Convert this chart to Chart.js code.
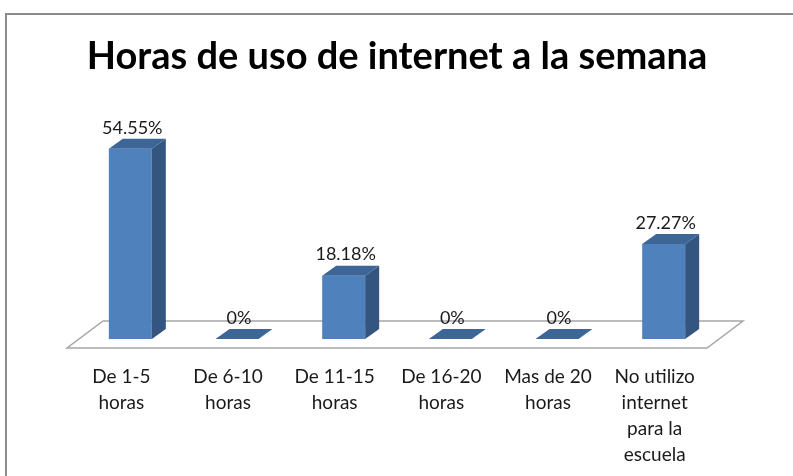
<!DOCTYPE html>
<html>
<head>
<meta charset="utf-8">
<script src="https://cdn.jsdelivr.net/npm/chart.js@4.4.1/dist/chart.umd.min.js"></script>
<style>
  html, body { margin: 0; padding: 0; background: #fff; overflow: hidden; }
  body { width: 793px; height: 476px; position: relative; }
  #frame { position: absolute; left: 5px; top: 13px; width: 820px; height: 500px;
           border: 2px solid #8c8c8c; box-sizing: border-box; }
  #wrap { position: absolute; left: 5px; top: 13px; width: 805px; height: 470px; }
</style>
</head>
<body>
<div id="frame"></div>
<div id="wrap"><canvas id="grafica"></canvas></div>
<script>
const categorias = [
  ['De 1-5', 'horas'],
  ['De 6-10', 'horas'],
  ['De 11-15', 'horas'],
  ['De 16-20', 'horas'],
  ['Mas de 20', 'horas'],
  ['No utilizo', 'internet', 'para la', 'escuela']
];
const porcentajes = [54.55, 0, 18.18, 0, 0, 27.27];
const etiquetas = ['54.55%', '0%', '18.18%', '0%', '0%', '27.27%'];

const DX = 14, DY = 10;

// piso gris en perspectiva
const piso = {
  id: 'piso',
  beforeDatasetsDraw(chart) {
    const ctx = chart.ctx;
    const a = chart.chartArea;
    const y0 = chart.scales.y.getPixelForValue(0);
    ctx.save();
    ctx.beginPath();
    ctx.moveTo(a.left - 10, y0 + 9);
    ctx.lineTo(a.right - 10, y0 + 9);
    ctx.lineTo(a.right + 26, y0 - 18);
    ctx.lineTo(a.left + 26, y0 - 18);
    ctx.closePath();
    ctx.fillStyle = '#ffffff';
    ctx.fill();
    ctx.strokeStyle = '#a6a6a6';
    ctx.lineWidth = 1.5;
    ctx.stroke();
    ctx.restore();
  }
};

// caras laterales y superiores de las barras + etiquetas
const barras3d = {
  id: 'barras3d',
  afterDatasetsDraw(chart) {
    const ctx = chart.ctx;
    const meta = chart.getDatasetMeta(0);
    ctx.save();
    meta.data.forEach((bar, i) => {
      const w = bar.width;
      const x0 = bar.x - w / 2, x1 = bar.x + w / 2;
      const top = bar.y, base = bar.base;
      // lado
      if (base - top > 0.5) {
        ctx.beginPath();
        ctx.moveTo(x1, top);
        ctx.lineTo(x1 + DX, top - DY);
        ctx.lineTo(x1 + DX, base - DY);
        ctx.lineTo(x1, base);
        ctx.closePath();
        ctx.fillStyle = '#34557f';
        ctx.fill();
      }
      // techo
      ctx.beginPath();
      ctx.moveTo(x0, top);
      ctx.lineTo(x1, top);
      ctx.lineTo(x1 + DX, top - DY);
      ctx.lineTo(x0 + DX, top - DY);
      ctx.closePath();
      ctx.fillStyle = '#3d6596';
      ctx.fill();
      // etiqueta
      ctx.fillStyle = '#1a1a1a';
      ctx.font = '18px Lato';
      ctx.textAlign = 'center';
      ctx.textBaseline = 'middle';
      ctx.fillText(etiquetas[i], bar.x + 2, top - 21);
    });
    ctx.restore();
  }
};

const ctx = document.getElementById('grafica');
new Chart(ctx, {
  type: 'bar',
  data: {
    labels: categorias,
    datasets: [{
      data: porcentajes,
      backgroundColor: '#4f81bd',
      borderWidth: 0,
      categoryPercentage: 1,
      barPercentage: 0.403
    }]
  },
  options: {
    responsive: true,
    maintainAspectRatio: false,
    animation: false,
    layout: { padding: { left: 72, right: 93, top: 0, bottom: 0 } },
    plugins: {
      legend: { display: false },
      tooltip: { enabled: false },
      title: {
        display: true,
        text: 'Horas de uso de internet a la semana',
        color: '#000',
        font: { family: 'Lato', size: 38, weight: 'bold', lineHeight: 1.2 },
        padding: { top: 21, bottom: 15.4 }
      }
    },
    scales: {
      x: {
        grid: { display: false, drawTicks: false },
        border: { display: false },
        ticks: {
          color: '#1a1a1a',
          font: { family: 'Lato', size: 19, lineHeight: 1.37 },
          padding: 25,
          labelOffset: -9,
          maxRotation: 0,
          autoSkip: false
        },
        afterFit(scale) { scale.height = 144; }
      },
      y: {
        display: false,
        min: 0,
        max: 70
      }
    }
  },
  plugins: [piso, barras3d]
});
</script>
</body>
</html>
